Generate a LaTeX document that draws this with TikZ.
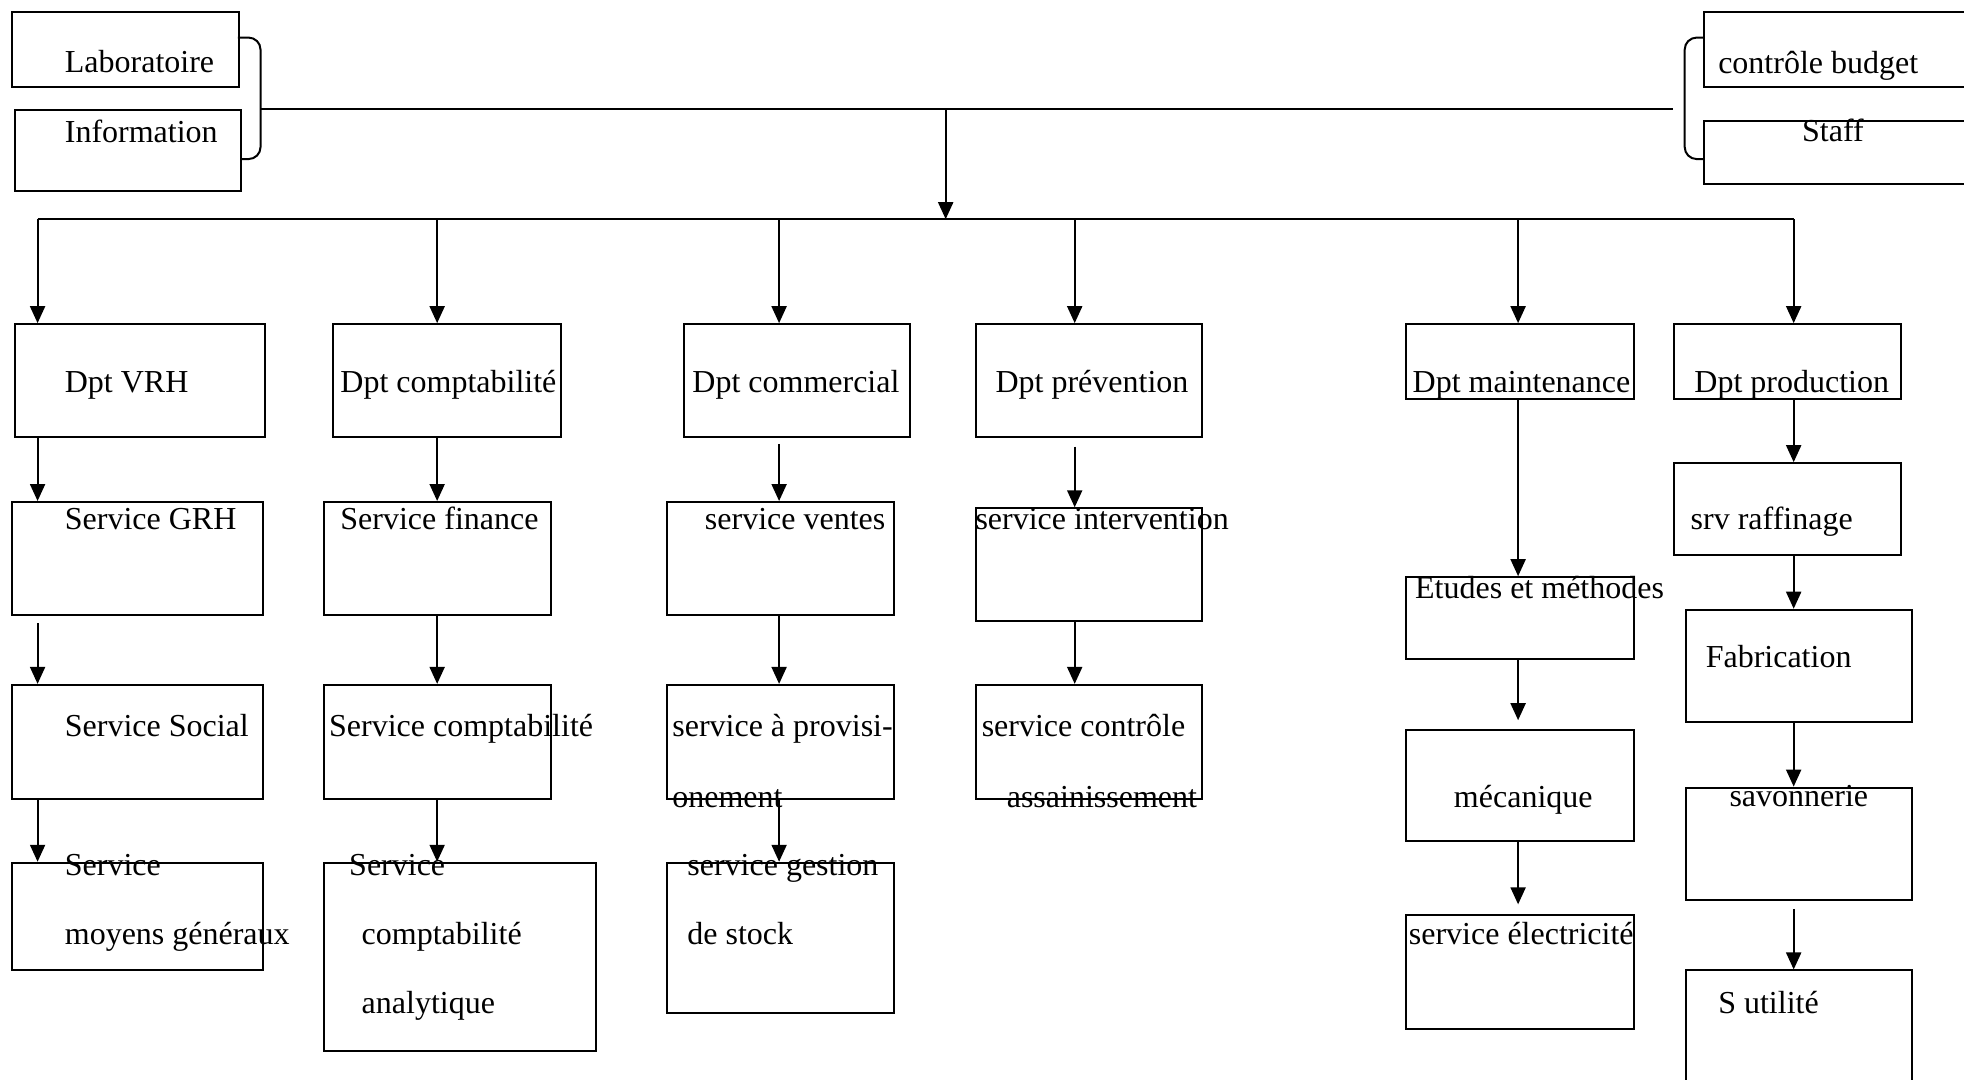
\documentclass[tikz,border=0pt]{standalone}
\usepackage{fontspec}
\setmainfont{Liberation Serif}
\usetikzlibrary{arrows.meta}

\newlength\px
\setlength\px{0.6263pt}

\begin{document}
\begin{tikzpicture}[x=0.6263pt, y=-0.6263pt, line width=1pt,
    font=\fontsize{16}{19}\selectfont,
    % styles
    boite/.style 2 args={draw, anchor=north west, inner sep=0pt,
        minimum width=#1*\px, minimum height=#2*\px},
    texte/.style={anchor=base west, inner sep=0pt},
    fleche/.style={-{Triangle[length=8.5pt, width=7.5pt]}},
    accolade/.style={rounded corners=6pt}
]
    \useasboundingbox (0,0) rectangle (1568,862);

    % --- Haut : laboratoire / information, budget / staff ---
    \node[boite={181}{60}] (labo)   at (9,9)     {};
    \node[boite={181}{65}] (info)   at (11,87)   {};
    \node[boite={215}{60}] (budget) at (1360,9)  {};
    \node[boite={215}{50}] (staff)  at (1360,96) {};

    \node[texte] (tlabo)   at (51,58)    {Laboratoire};
    \node[texte] (tinfo)   at (51,114)   {Information};
    \node[texte] (tbudget) at (1371,59)  {contrôle budget};
    \node[texte] (tstaff)  at (1438,113) {Staff};

    % accolades
    \draw[accolade] (190,30) -| (208,127) -- (192,127);
    \draw[accolade] (1360,30) -| (1345,127) -- (1360,127);

    % --- Points de la ligne haute et du bus ---
    \coordinate (hg)   at (208,87);
    \coordinate (hd)   at (1336,87);
    \coordinate (haut) at (755,87);
    \coordinate (bus)  at (755,175);
    \coordinate (c1) at (30,175);
    \coordinate (c2) at (349,175);
    \coordinate (c3) at (622,175);
    \coordinate (c4) at (858,175);
    \coordinate (c5) at (1212,175);
    \coordinate (c6) at (1432,175);

    \draw (hg) -- (hd);
    \draw[fleche] (haut) -- (bus);
    \draw (c1) -- (c6);

    % --- Departements ---
    \node[boite={200}{90}] (vrh)     at (11,258)   {};
    \node[boite={182}{90}] (compta)  at (265,258)  {};
    \node[boite={181}{90}] (commerc) at (545,258)  {};
    \node[boite={181}{90}] (prev)    at (778,258)  {};
    \node[boite={182}{60}] (maint)   at (1122,258) {};
    \node[boite={181}{60}] (prod)    at (1336,258) {};

    \node[texte] (tvrh)     at (51,313)   {Dpt VRH};
    \node[texte] (tcompta)  at (271,313)  {Dpt comptabilité};
    \node[texte] (tcommerc) at (552,313)  {Dpt commercial};
    \node[texte] (tprev)    at (794,313)  {Dpt prévention};
    \node[texte] (tmaint)   at (1127,313) {Dpt maintenance};
    \node[texte] (tprod)    at (1352,313) {Dpt production};

    % --- Services ---
    \node[boite={200}{90}]  (grh)     at (9,400)    {};
    \node[boite={200}{91}]  (social)  at (9,546)    {};
    \node[boite={200}{86}]  (moyens)  at (9,688)    {};
    \node[boite={181}{90}]  (fin)     at (258,400)  {};
    \node[boite={181}{91}]  (scompta) at (258,546)  {};
    \node[boite={217}{150}] (analyt)  at (258,688)  {};
    \node[boite={181}{90}]  (ventes)  at (532,400)  {};
    \node[boite={181}{91}]  (provi)   at (532,546)  {};
    \node[boite={181}{120}] (stock)   at (532,688)  {};
    \node[boite={181}{90}]  (interv)  at (778,405)  {};
    \node[boite={181}{91}]  (ctrl)    at (778,546)  {};
    \node[boite={182}{65}]  (etudes)  at (1122,460) {};
    \node[boite={182}{89}]  (meca)    at (1122,582) {};
    \node[boite={182}{91}]  (elec)    at (1122,730) {};
    \node[boite={181}{73}]  (raff)    at (1336,369) {};
    \node[boite={181}{90}]  (fab)     at (1345,486) {};
    \node[boite={181}{90}]  (savon)   at (1345,628) {};
    \node[boite={181}{100}] (util)    at (1345,774) {};

    \node[texte] (tgrh)     at (51,423)   {Service GRH};
    \node[texte] (tsocial)  at (51,588)   {Service Social};
    \node[texte] (tmoy1)    at (51,699)   {Service};
    \node[texte] (tmoy2)    at (51,754)   {moyens généraux};
    \node[texte] (tfin)     at (271,423)  {Service finance};
    \node[texte] (tscompta) at (262,588)  {Service comptabilité};
    \node[texte] (tana1)    at (278,699)  {Service};
    \node[texte] (tana2)    at (288,754)  {comptabilité};
    \node[texte] (tana3)    at (288,809)  {analytique};
    \node[texte] (tventes)  at (562,423)  {service ventes};
    \node[texte] (tprovi1)  at (536,588)  {service à provisi-};
    \node[texte] (tprovi2)  at (536,645)  {onement};
    \node[texte] (tstock1)  at (548,699)  {service gestion};
    \node[texte] (tstock2)  at (548,754)  {de stock};
    \node[texte] (tinterv)  at (778,423)  {service intervention};
    \node[texte] (tctrl1)   at (783,588)  {service contrôle};
    \node[texte] (tctrl2)   at (803,645)  {assainissement};
    \node[texte] (tetudes)  at (1129,478) {Etudes et méthodes};
    \node[texte] (tmeca)    at (1160,645) {mécanique};
    \node[texte] (telec)    at (1124,754) {service électricité};
    \node[texte] (traff)    at (1349,423) {srv raffinage};
    \node[texte] (tfab)     at (1361,533) {Fabrication};
    \node[texte] (tsavon)   at (1380,644) {savonnerie};
    \node[texte] (tutil)    at (1371,809) {S utilité};

    % --- Fleches du bus vers les departements ---
    \draw[fleche] (c1) -- (vrh.north -| c1);
    \draw[fleche] (c2) -- (compta.north -| c2);
    \draw[fleche] (c3) -- (commerc.north -| c3);
    \draw[fleche] (c4) -- (prev.north -| c4);
    \draw[fleche] (c5) -- (maint.north -| c5);
    \draw[fleche] (c6) -- (prod.north -| c6);

    % --- Fleches dans les colonnes ---
    \draw[fleche] (vrh.south -| c1) -- (grh.north -| c1);
    \draw[fleche, shorten <=3.8pt] (grh.south -| c1) -- (social.north -| c1);
    \draw[fleche] (social.south -| c1) -- (moyens.north -| c1);

    \draw[fleche] (compta.south -| c2) -- (fin.north -| c2);
    \draw[fleche] (fin.south -| c2) -- (scompta.north -| c2);
    \draw[fleche] (scompta.south -| c2) -- (analyt.north -| c2);

    \draw[fleche, shorten <=3pt] (commerc.south -| c3) -- (ventes.north -| c3);
    \draw[fleche] (ventes.south -| c3) -- (provi.north -| c3);
    \draw[fleche] (provi.south -| c3) -- (stock.north -| c3);

    \draw[fleche, shorten <=4.4pt] (prev.south -| c4) -- (interv.north -| c4);
    \draw[fleche] (interv.south -| c4) -- (ctrl.north -| c4);

    \draw[fleche] (maint.south -| c5) -- (etudes.north -| c5);
    \draw[fleche, shorten >=4.4pt] (etudes.south -| c5) -- (meca.north -| c5);
    \draw[fleche, shorten >=5pt] (meca.south -| c5) -- (elec.north -| c5);

    \draw[fleche] (prod.south -| c6) -- (raff.north -| c6);
    \draw[fleche] (raff.south -| c6) -- (fab.north -| c6);
    \draw[fleche] (fab.south -| c6) -- (savon.north -| c6);
    \draw[fleche, shorten <=3.8pt] (savon.south -| c6) -- (util.north -| c6);

\end{tikzpicture}
\end{document}
